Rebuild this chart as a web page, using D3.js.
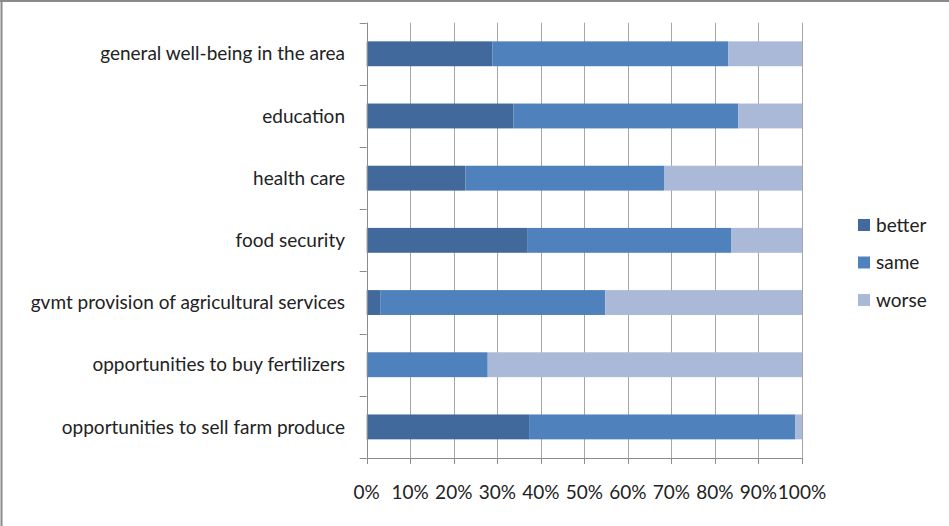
<!DOCTYPE html>
<html><head><meta charset="utf-8">
<script src="https://cdn.jsdelivr.net/npm/d3@7"></script>
<style>body{margin:0;background:#fff}svg{display:block}</style>
</head><body>
<script>
const categories = ["general well-being in the area","education","health care","food security","gvmt provision of agricultural services","opportunities to buy fertilizers","opportunities to sell farm produce"];
const better = [28.9, 33.7, 22.7, 37.0, 3.1, 0, 37.3];
const same   = [54.2, 51.7, 45.6, 46.8, 51.7, 27.8, 61.2];
const worse  = [16.9, 14.6, 31.7, 16.2, 45.2, 72.2, 1.5];
const seriesNames = ["better","same","worse"];
const colors = ["#41699B","#4F81BD","#AAB9D7"];
const xTicks = [0,10,20,30,40,50,60,70,80,90,100];

const W=949,H=526;
const svg=d3.select("body").append("svg").attr("width",W).attr("height",H);
svg.append("line").attr("x1",0).attr("x2",W).attr("y1",1).attr("y2",1).attr("stroke","#8a8a8a").attr("stroke-width",2);
svg.append("line").attr("x1",1.5).attr("x2",1.5).attr("y1",0).attr("y2",H).attr("stroke","#8a8a8a").attr("stroke-width",2);

const L=366.7,R=802,T=22.7,B=458;
const font="Lato, 'Open Sans', sans-serif";
const fs=19;
const x=d3.scaleLinear().domain([0,100]).range([L,R]);
const y=d3.scaleBand().domain(categories).range([T,B]).paddingInner(0.6).paddingOuter(0.3);

// gridlines
svg.append("g").selectAll("line").data(xTicks).join("line")
  .attr("x1",d=>Math.round(x(d))+0.5).attr("x2",d=>Math.round(x(d))+0.5)
  .attr("y1",T).attr("y2",B).attr("stroke","#a6a6a6").attr("stroke-width",1);

// stacked data
const rows=categories.map((c,i)=>({cat:c,better:better[i],same:same[i],worse:worse[i]}));
const stack=d3.stack().keys(seriesNames)(rows);
svg.append("g").selectAll("g").data(stack).join("g").attr("fill",(d,i)=>colors[i])
  .selectAll("rect").data(d=>d).join("rect")
  .attr("x",d=>x(d[0])).attr("width",d=>Math.max(0,x(d[1])-x(d[0])))
  .attr("y",d=>y(d.data.cat)).attr("height",y.bandwidth());

// y axis
const ax="#8c8c8c";
svg.append("line").attr("x1",Math.round(L)+0.5).attr("x2",Math.round(L)+0.5).attr("y1",T).attr("y2",B).attr("stroke",ax);
const step=(B-T)/categories.length;
const bounds=d3.range(categories.length+1).map(i=>T+i*step);
svg.append("g").selectAll("line").data(bounds).join("line")
  .attr("x1",L-7).attr("x2",L).attr("y1",d=>Math.round(d)+0.5).attr("y2",d=>Math.round(d)+0.5).attr("stroke",ax);
// x axis
svg.append("line").attr("x1",L).attr("x2",R).attr("y1",Math.round(B)+0.5).attr("y2",Math.round(B)+0.5).attr("stroke",ax);
svg.append("g").selectAll("line").data(xTicks).join("line")
  .attr("x1",d=>Math.round(x(d))+0.5).attr("x2",d=>Math.round(x(d))+0.5)
  .attr("y1",B).attr("y2",B+6).attr("stroke",ax);

// labels
svg.append("g").selectAll("text").data(categories).join("text")
  .attr("x",345).attr("y",d=>y(d)+y.bandwidth()/2).attr("dy","0.35em")
  .attr("text-anchor","end").attr("font-family",font).attr("font-size",fs).attr("fill","#222")
  .text(d=>d);
svg.append("g").selectAll("text").data(xTicks).join("text")
  .attr("x",d=>x(d)).attr("y",499).attr("text-anchor","middle")
  .attr("font-family",font).attr("font-size",fs).attr("fill","#222").text(d=>d+"%");

// legend
const lg=svg.append("g").selectAll("g").data(seriesNames).join("g")
  .attr("transform",(d,i)=>`translate(858,${225+i*37.5})`);
lg.append("rect").attr("x",0).attr("y",-6).attr("width",12).attr("height",12).attr("fill",(d,i)=>colors[i]);
lg.append("text").attr("x",18).attr("y",0).attr("dy","0.35em").attr("font-family",font).attr("font-size",fs).attr("fill","#222").text(d=>d);
</script>
</body></html>
